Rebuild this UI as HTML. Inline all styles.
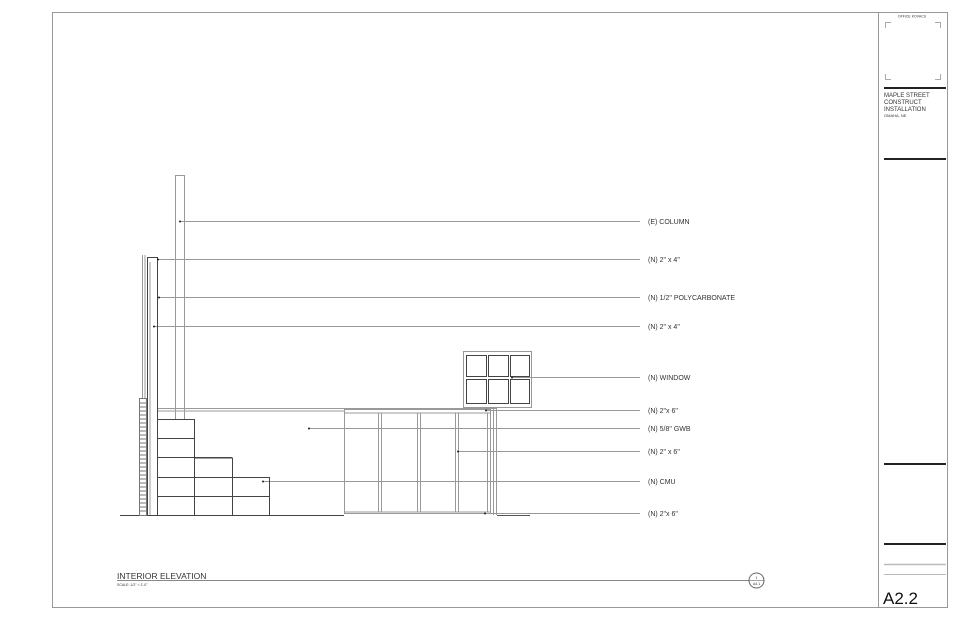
<!DOCTYPE html>
<html><head><meta charset="utf-8"><style>
html,body{margin:0;padding:0;background:#fff;width:960px;height:621px;overflow:hidden}
svg{display:block}
text{font-family:"Liberation Sans",sans-serif;fill:#333}
</style></head><body>
<svg width="960" height="621" viewBox="0 0 960 621" xmlns="http://www.w3.org/2000/svg">
<g fill="none" stroke="#999" stroke-width="1">
<rect x="52.5" y="12.5" width="895" height="595"/>
<line x1="878.5" y1="12" x2="878.5" y2="607"/>
</g>
<!-- title block -->
<text x="912" y="17.5" font-size="3.5" text-anchor="middle">OFFICE KOVACS</text>
<g stroke="#aaa" fill="none">
<polyline points="885.5,28 885.5,22.5 891,22.5"/>
<polyline points="935,22.5 940.5,22.5 940.5,28"/>
<polyline points="885.5,74 885.5,79.5 891,79.5"/>
<polyline points="935,79.5 940.5,79.5 940.5,74"/>
</g>
<g stroke="#222" stroke-width="2">
<line x1="884" y1="88" x2="946" y2="88"/>
<line x1="884" y1="159" x2="946" y2="159"/>
<line x1="884" y1="464" x2="946" y2="464"/>
<line x1="884" y1="544" x2="946" y2="544"/>
</g>
<g stroke="#bbb"><line x1="884" y1="564.5" x2="946" y2="564.5" stroke-width="1.5"/><line x1="884" y1="574.5" x2="946" y2="574.5"/></g>
<text x="884" y="97" font-size="6">MAPLE STREET</text>
<text x="884" y="104" font-size="6">CONSTRUCT</text>
<text x="884" y="111" font-size="6">INSTALLATION</text>
<text x="884" y="117" font-size="4">OMAHA, NE</text>
<text x="883" y="604" font-size="17" style="fill:#111">A2.2</text>
<!-- drawing -->
<g fill="none" stroke="#999" stroke-width="1">
<!-- leaders -->
<line x1="180" y1="221.5" x2="640" y2="221.5"/>
<line x1="157" y1="259.5" x2="640" y2="259.5"/>
<line x1="158" y1="297.5" x2="640" y2="297.5"/>
<line x1="153" y1="326.5" x2="640" y2="326.5"/>
<line x1="512" y1="377.5" x2="640" y2="377.5"/>
<line x1="486" y1="410.5" x2="640" y2="410.5"/>
<line x1="308" y1="428.5" x2="640" y2="428.5"/>
<line x1="458" y1="451.5" x2="640" y2="451.5"/>
<line x1="263" y1="481.5" x2="640" y2="481.5"/>
<line x1="485" y1="513.5" x2="640" y2="513.5"/>
<!-- column -->
<rect x="175.5" y="175.5" width="9" height="244"/>
<!-- top beam -->
<line x1="157" y1="408.5" x2="497" y2="408.5"/>
<line x1="157" y1="411" x2="344" y2="411"/>
<!-- wall -->
<line x1="142.5" y1="255" x2="142.5" y2="398"/>
<line x1="145" y1="255" x2="145" y2="398"/>
<line x1="150" y1="262" x2="150" y2="515"/>
<!-- door/panels -->
<rect x="344.5" y="409.5" width="146" height="104"/>
<line x1="344" y1="413" x2="490" y2="413"/>
<line x1="344" y1="512" x2="490" y2="512"/>
<line x1="378.5" y1="413" x2="378.5" y2="512"/><line x1="381.5" y1="413" x2="381.5" y2="512"/>
<line x1="417.5" y1="413" x2="417.5" y2="512"/><line x1="420.5" y1="413" x2="420.5" y2="512"/>
<line x1="455.5" y1="413" x2="455.5" y2="512"/><line x1="458.5" y1="413" x2="458.5" y2="512"/>
<line x1="487.5" y1="413" x2="487.5" y2="512"/>
<line x1="493.5" y1="409" x2="493.5" y2="515"/><line x1="496.5" y1="409" x2="496.5" y2="515"/>
<line x1="497" y1="515.5" x2="530" y2="515.5" stroke="#555"/>
<!-- window outer -->
<rect x="463.5" y="351.5" width="68" height="56"/>
</g>
<g fill="none" stroke="#444" stroke-width="1">
<rect x="147.5" y="257.5" width="10" height="258"/>
<!-- CMU -->
<rect x="157.5" y="419.5" width="37" height="96"/>
<line x1="157" y1="438.5" x2="194" y2="438.5"/>
<line x1="157" y1="457.5" x2="232" y2="457.5"/>
<line x1="157" y1="477.5" x2="270" y2="477.5"/>
<line x1="157" y1="496.5" x2="270" y2="496.5"/>
<polyline points="194.5,458 232.5,458 232.5,515.5"/>
<polyline points="232.5,477.5 269.5,477.5 269.5,515.5"/>
<!-- window panes -->
<rect x="466.5" y="355.5" width="20" height="21"/><rect x="488.5" y="355.5" width="20" height="21"/><rect x="510.5" y="355.5" width="19" height="21"/>
<rect x="466.5" y="379.5" width="20" height="24"/><rect x="488.5" y="379.5" width="20" height="24"/><rect x="510.5" y="379.5" width="19" height="24"/>
<!-- floor -->
<line x1="120" y1="515.5" x2="344" y2="515.5"/>
</g>
<!-- brick -->
<g stroke="#777" fill="none">
<rect x="139.5" y="398.5" width="7" height="117"/>
<path d="M139 403h8M139 407h8M139 411h8M139 415h8M139 419h8M139 423h8M139 427h8M139 431h8M139 435h8M139 439h8M139 443h8M139 447h8M139 451h8M139 455h8M139 459h8M139 463h8M139 467h8M139 471h8M139 475h8M139 479h8M139 483h8M139 487h8M139 491h8M139 495h8M139 499h8M139 503h8M139 507h8M139 511h8"/>
</g>
<!-- arrow ticks -->
<g fill="#222">
<circle cx="180" cy="221.5" r="1"/><circle cx="158" cy="259.5" r="1"/><circle cx="159" cy="297.5" r="1"/>
<circle cx="154" cy="326.5" r="1"/><circle cx="512" cy="377.5" r="1"/><circle cx="486" cy="410.5" r="1"/>
<circle cx="309" cy="428.5" r="1"/><circle cx="458" cy="451.5" r="1"/><circle cx="263" cy="481.5" r="1"/>
<circle cx="485" cy="513.5" r="1"/>
</g>
<!-- labels -->
<g font-size="7">
<text x="648" y="224">(E) COLUMN</text>
<text x="648" y="262">(N) 2" x 4"</text>
<text x="648" y="300">(N) 1/2" POLYCARBONATE</text>
<text x="648" y="329">(N) 2" x 4"</text>
<text x="648" y="380">(N) WINDOW</text>
<text x="648" y="413">(N) 2"x 6"</text>
<text x="648" y="431">(N) 5/8" GWB</text>
<text x="648" y="454">(N) 2" x 6"</text>
<text x="648" y="484">(N) CMU</text>
<text x="648" y="516">(N) 2"x 6"</text>
</g>
<!-- title -->
<text x="117" y="579" font-size="8.5">INTERIOR ELEVATION</text>
<text x="117" y="586" font-size="3.5">SCALE: 1/2" = 1'-0"</text>
<line x1="117" y1="580.5" x2="749" y2="580.5" stroke="#888"/>
<circle cx="756.5" cy="580.5" r="7.5" fill="#fff" stroke="#666"/>
<line x1="749" y1="580.5" x2="764" y2="580.5" stroke="#666" stroke-width="0.6"/>
<text x="756.5" y="579" font-size="3.5" text-anchor="middle">1</text>
<text x="756.5" y="585" font-size="3.5" text-anchor="middle">A4.1</text>
</svg>
</body></html>
